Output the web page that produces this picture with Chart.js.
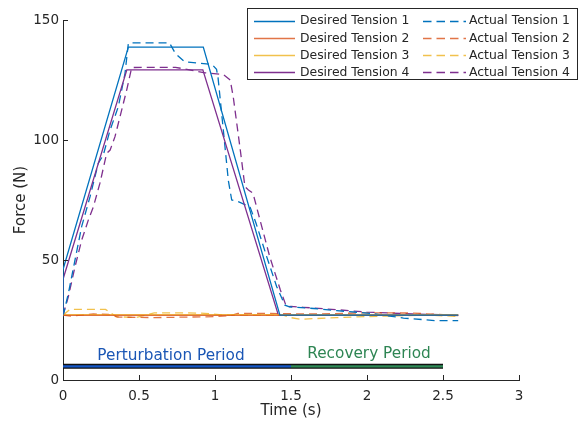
<!DOCTYPE html>
<html>
<head>
<meta charset="utf-8">
<script src="https://cdn.jsdelivr.net/npm/chart.js@4/dist/chart.umd.min.js"></script>
<style>
html,body{margin:0;padding:0;background:#fff;}
#wrap{width:579px;height:426px;}
</style>
</head>
<body>
<div id="wrap"><canvas id="c" width="579" height="426"></canvas></div>
<script>
// ---------- data ----------
const xTicks = [0, 0.5, 1, 1.5, 2, 2.5, 3];
const yTicks = [0, 50, 100, 150];

const seriesLabels = ['Desired Tension 1','Desired Tension 2','Desired Tension 3','Desired Tension 4',
                      'Actual Tension 1','Actual Tension 2','Actual Tension 3','Actual Tension 4'];

const desired1Time  = [0, 0, 0.43, 0.923, 1.427, 2.6];
const desired1Force = [27, 46, 138.7, 138.7, 27, 27];
const desired2Time  = [0, 1.0, 2.6];
const desired2Force = [26.9, 26.9, 26.9];
const desired3Time  = [0, 1.0, 2.6];
const desired3Force = [27.2, 27.2, 27.2];
const desired4Time  = [0, 0, 0.42, 0.92, 1.417, 2.6];
const desired4Force = [27, 42, 129.2, 129.2, 27, 27];

const actual1Time  = [0, 0.035, 0.079, 0.123, 0.178, 0.232, 0.265, 0.309, 0.364, 0.408, 0.43, 0.45, 0.70, 0.74, 0.80, 0.90, 0.98, 1.01, 1.02, 1.055, 1.088, 1.11, 1.153, 1.23, 1.27, 1.34, 1.406, 1.46, 1.49, 1.65, 1.80, 2.02, 2.24, 2.46, 2.6];
const actual1Force = [26.5, 36, 50, 64, 76.4, 90.3, 93.7, 104, 113.9, 127.8, 140.3, 140.5, 140.5, 136, 132.6, 132, 131.5, 129.5, 126, 104, 83, 75, 74.3, 72.2, 65.3, 51.4, 38.9, 31.2, 30.5, 29.8, 28.9, 27.8, 25.8, 24.7, 24.7];

const actual2Time  = [0, 0.05, 0.2, 0.3, 0.36, 0.6, 0.8, 1.0, 1.1, 1.15, 1.3, 1.5, 1.69, 1.98, 2.3, 2.5, 2.6];
const actual2Force = [27, 26.6, 27.5, 27.3, 26.2, 26, 26.2, 26.4, 26.8, 27.8, 27.8, 27.6, 27.5, 28, 27.9, 27.2, 26.8];

const actual3Time  = [0, 0.046, 0.28, 0.35, 0.48, 0.6, 0.78, 0.93, 1.05, 1.3, 1.45, 1.49, 1.56, 1.8, 2.1, 2.4, 2.6];
const actual3Force = [27, 29.4, 29.4, 26.4, 26, 28, 28, 27.8, 27.1, 27, 27, 26.1, 25.3, 26, 26.6, 27, 26.5];

const actual4Time  = [0, 0.035, 0.079, 0.123, 0.167, 0.2, 0.243, 0.287, 0.31, 0.342, 0.375, 0.419, 0.452, 0.74, 0.934, 1.055, 1.10, 1.12, 1.164, 1.197, 1.22, 1.25, 1.296, 1.36, 1.43, 1.47, 1.5, 1.58, 1.8, 2.0, 2.3, 2.6];
const actual4Force = [27, 34.7, 47.2, 58.3, 66.7, 72.2, 82, 94.4, 95.8, 101.4, 109.7, 120.8, 130.2, 130.3, 128, 127.3, 125, 118, 97, 80.5, 79.2, 77.8, 66.7, 51.4, 37.5, 30.5, 30.7, 30.3, 29.3, 28.3, 27.5, 27];

const periodNames = ['Perturbation Period', 'Recovery Period'];
const periodStart = [0, 1.5];
const periodEnd   = [1.5, 2.5];
const periodLevel = 5.7;

// ---------- styles ----------
const seriesColors = ['#0072BD', 'rgba(217,83,25,0.8)', 'rgba(237,177,32,0.8)', '#7E2F8E'];
const periodColors = ['#1457C8', '#2E8B57'];
const periodTextColors = ['#1A56B5', '#2E8553'];
const FONT = "'DejaVu Sans', Verdana, sans-serif";
const AX = '#262626';

function pts(t, f) { return t.map((v, i) => ({x: v, y: f[i]})); }

const desiredT = [desired1Time, desired2Time, desired3Time, desired4Time];
const desiredF = [desired1Force, desired2Force, desired3Force, desired4Force];
const actualT = [actual1Time, actual2Time, actual3Time, actual4Time];
const actualF = [actual1Force, actual2Force, actual3Force, actual4Force];

const datasets = [];
for (let i = 0; i < 4; i++) {
  datasets.push({label: seriesLabels[i], data: pts(desiredT[i], desiredF[i]),
    borderColor: seriesColors[i], borderWidth: 1.3, borderDash: [], order: 1});
}
for (let i = 0; i < 4; i++) {
  datasets.push({label: seriesLabels[4 + i], data: pts(actualT[i], actualF[i]),
    borderColor: seriesColors[i], borderWidth: 1.3, borderDash: [8, 5], order: 1});
}
// period bars: dark outline then coloured fill
datasets.push({label: '', legendSkip: true,
  data: [{x: periodStart[0], y: periodLevel}, {x: periodEnd[periodEnd.length - 1], y: periodLevel}],
  borderColor: '#111', borderWidth: 5, borderCapStyle: 'butt', order: 6});
for (let i = 0; i < periodNames.length; i++) {
  datasets.push({label: '', legendSkip: true,
    data: [{x: periodStart[i], y: periodLevel}, {x: periodEnd[i], y: periodLevel}],
    borderColor: periodColors[i], borderWidth: 2.2, borderCapStyle: 'butt', order: 5});
}

// ---------- plugins ----------
const inwardTicks = {
  id: 'inwardTicks',
  afterDatasetsDraw(chart) {
    const {ctx, scales: {x, y}, chartArea} = chart;
    ctx.save();
    ctx.strokeStyle = AX; ctx.lineWidth = 1;
    ctx.beginPath();
    xTicks.forEach(v => {
      const px = Math.round(x.getPixelForValue(v)) + 0.5;
      ctx.moveTo(px, chartArea.bottom); ctx.lineTo(px, chartArea.bottom - 5);
    });
    yTicks.forEach(v => {
      const py = Math.round(y.getPixelForValue(v)) + 0.5;
      ctx.moveTo(chartArea.left, py); ctx.lineTo(chartArea.left + 5, py);
    });
    ctx.stroke();
    ctx.restore();
  }
};

const periodText = {
  id: 'periodText',
  afterDatasetsDraw(chart) {
    const {ctx, scales: {x, y}} = chart;
    const shifts = [-6, 2];
    const lifts = [10, 12];
    ctx.save();
    ctx.font = '15.3px ' + FONT;
    ctx.textAlign = 'center';
    ctx.textBaseline = 'middle';
    periodNames.forEach((name, i) => {
      const cx = x.getPixelForValue((periodStart[i] + periodEnd[i]) / 2) + shifts[i];
      const cy = y.getPixelForValue(periodLevel) - lifts[i];
      ctx.fillStyle = periodTextColors[i];
      ctx.fillText(name, cx, cy);
    });
    ctx.restore();
  }
};

const boxLegend = {
  id: 'boxLegend',
  afterDraw(chart) {
    const ctx = chart.ctx;
    const bx = 247.5, by = 8.5, bw = 330, bh = 71;
    ctx.save();
    ctx.fillStyle = '#fff';
    ctx.fillRect(bx, by, bw, bh);
    ctx.strokeStyle = AX; ctx.lineWidth = 1;
    ctx.strokeRect(bx, by, bw, bh);
    const items = chart.data.datasets.filter(d => !d.legendSkip);
    const rowY = [20.5, 38, 55, 72];
    const colLine = [[254, 295], [423, 466]];
    const colText = [300, 469];
    ctx.font = '12.4px ' + FONT;
    ctx.textBaseline = 'middle';
    ctx.textAlign = 'left';
    items.forEach((ds, i) => {
      const col = Math.floor(i / 4), row = i % 4;
      const yy = Math.round(rowY[row]) + 0.5;
      ctx.strokeStyle = ds.borderColor;
      ctx.lineWidth = 1.3;
      ctx.setLineDash(ds.borderDash && ds.borderDash.length ? [8.5, 5] : []);
      ctx.beginPath();
      ctx.moveTo(colLine[col][0], yy); ctx.lineTo(colLine[col][1], yy);
      ctx.stroke();
      ctx.setLineDash([]);
      ctx.fillStyle = AX;
      ctx.fillText(ds.label, colText[col], rowY[row] + 0.5);
    });
    ctx.restore();
  }
};

new Chart(document.getElementById('c'), {
  type: 'line',
  data: {datasets},
  options: {
    responsive: false,
    animation: false,
    layout: {padding: {top: 20, right: 60, left: 0, bottom: 0}},
    elements: {point: {radius: 0}, line: {tension: 0, fill: false}},
    plugins: {legend: {display: false}, tooltip: {enabled: false}},
    scales: {
      x: {
        type: 'linear', min: 0, max: 3,
        afterFit(s) { s.height = 46; },
        afterBuildTicks(s) { s.ticks = xTicks.map(v => ({value: v})); },
        grid: {display: false, drawTicks: false},
        border: {display: true, color: AX, width: 1},
        ticks: {color: AX, font: {family: FONT, size: 13.5}, padding: 8, maxRotation: 0, autoSkip: false,
                callback: v => String(v)},
        title: {display: true, text: 'Time (s)', color: AX, font: {family: FONT, size: 15}, padding: {top: 0, bottom: 6}}
      },
      y: {
        type: 'linear', min: 0, max: 150,
        afterFit(s) { s.width = 63; },
        afterBuildTicks(s) { s.ticks = yTicks.map(v => ({value: v})); },
        grid: {display: false, drawTicks: false},
        border: {display: true, color: AX, width: 1},
        ticks: {color: AX, font: {family: FONT, size: 13.5}, padding: 4, autoSkip: false,
                callback: v => String(v)},
        title: {display: true, text: 'Force (N)', color: AX, font: {family: FONT, size: 15}, padding: {top: 12, bottom: 0}}
      }
    }
  },
  plugins: [inwardTicks, periodText, boxLegend]
});
</script>
</body>
</html>
